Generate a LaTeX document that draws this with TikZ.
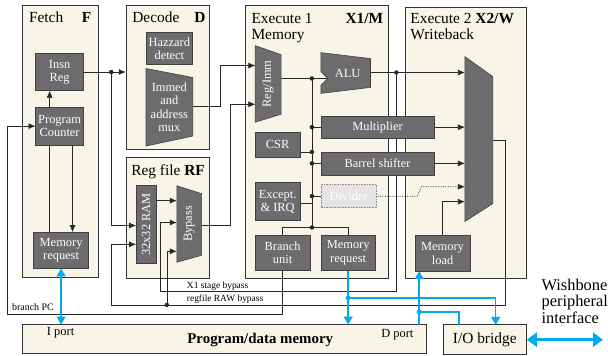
\documentclass[tikz,border=0pt]{standalone}
\usepackage{fontspec}
\setmainfont{Liberation Serif}
\usetikzlibrary{arrows.meta,calc}
\definecolor{cream}{RGB}{248,245,232}
\definecolor{blkgray}{RGB}{108,108,111}
\definecolor{cyanb}{RGB}{0,170,238}
\definecolor{divfill}{RGB}{228,228,228}
\pgfdeclarelayer{bg}
\pgfdeclarelayer{wirel}
\pgfsetlayers{bg,wirel,main}
\begin{document}
\begin{tikzpicture}[x=1pt,y=-1pt,
  stage/.style={draw=black!80,fill=cream,line width=0.7pt,inner sep=0pt},
  blkbox/.style={draw=black!75,fill=blkgray,text=white,align=center,inner sep=0pt,line width=0.6pt,font=\fontsize{12.5}{13.5}\selectfont},
  muxshape/.style={draw=black!75,fill=blkgray,line width=0.6pt},
  muxtext/.style={text=white,align=center,inner sep=0pt,font=\fontsize{12.5}{13.5}\selectfont},
  wire/.style={draw=black!85,line width=0.7pt},
  arr/.style={wire,-{Latex[length=7pt,width=6pt]}},
  bwire/.style={draw=cyanb,line width=1.6pt},
  barr/.style={bwire,-{Triangle[length=8pt,width=9pt]}},
  jdot/.style={circle,fill=black!85,inner sep=0pt,minimum size=4.5pt},
  bdot/.style={circle,fill=cyanb,inner sep=0pt,minimum size=5pt},
  ttl/.style={font=\fontsize{15.5}{17}\selectfont,inner sep=0pt},
  wbt/.style={font=\fontsize{16.5}{18}\selectfont,inner sep=0pt,anchor=base west},
  small/.style={font=\fontsize{9.5}{11}\selectfont,inner sep=0pt,anchor=base west},
]
\begin{pgfonlayer}{bg}
\useasboundingbox (0,0) rectangle (608,358);
\fill[white] (0,0) rectangle (608,358);
% ---------- stage boxes ----------
\node[stage,minimum width=76,minimum height=274] (fetch) at (61,142) {};
\node[stage,minimum width=84,minimum height=145] (decode) at (169,77.5) {};
\node[stage,minimum width=84,minimum height=122] (rf) at (169,219) {};
\node[stage,minimum width=144,minimum height=275] (xone) at (319,142.5) {};
\node[stage,minimum width=122,minimum height=273] (xtwo) at (469,143.5) {};
\node[stage,minimum width=406,minimum height=29] (pmem) at (226,341.5) {};
\node[stage,minimum width=84,minimum height=30,font=\fontsize{15.5}{17}\selectfont] (iob) at (488,342) {I/O bridge};
\end{pgfonlayer}

% ---------- titles ----------
\node[ttl,anchor=base west] (tF) at (29,22.5) {Fetch};
\node[ttl,anchor=base east] (tFb) at (92,22.5) {\bfseries F};
\node[ttl,anchor=base west] (tD) at (133,22.5) {Decode};
\node[ttl,anchor=base east] (tDb) at (207,22.5) {\bfseries D};
\node[ttl,anchor=base west] (tRF) at (132,177) {Reg file \textbf{RF}};
\node[ttl,anchor=base west] (tX1) at (253,23.5) {Execute 1};
\node[ttl,anchor=base west] (tX1m) at (253,40) {Memory};
\node[ttl,anchor=base east] (tX1b) at (386,23.5) {\bfseries X1/M};
\node[ttl,anchor=base west] (tX2) at (413,23.5) {Execute 2 \textbf{X2/W}};
\node[ttl,anchor=base west] (tX2m) at (413,40) {Writeback};
\node[font=\fontsize{15}{17}\selectfont\bfseries,inner sep=0pt] (tpm) at (262,342) {Program/data memory};
\node[font=\fontsize{12.5}{14}\selectfont,inner sep=0pt,anchor=base] (tip) at (61,338) {I port};
\node[font=\fontsize{12.5}{14}\selectfont,inner sep=0pt,anchor=base] (tdp) at (400,340) {D port};
\node[wbt] (w1) at (545,292) {Wishbone};
\node[wbt] (w2) at (545,309) {peripheral};
\node[wbt] (w3) at (545,326) {interface};

% ---------- blocks ----------
\node[blkbox,minimum width=48,minimum height=37] (insn) at (60,72.5) {Insn\\Reg};
\node[blkbox,minimum width=48,minimum height=38] (pc) at (60,127) {Program\\Counter};
\node[blkbox,minimum width=55,minimum height=36] (fmem) at (61.5,252) {Memory\\request};
\node[blkbox,minimum width=47,minimum height=32] (haz) at (170.5,49) {Hazzard\\detect};
\node[blkbox,minimum width=20,minimum height=78] (ram) at (147,226) {};
\node[muxtext,rotate=90] (ramt) at (147,226) {32x32 RAM};
\node[blkbox,minimum width=45,minimum height=25] (csr) at (279.5,145.5) {CSR};
\node[blkbox,minimum width=114,minimum height=22] (mult) at (380,128) {Multiplier};
\node[blkbox,minimum width=114,minimum height=23] (barrel) at (380,164.5) {Barrel shifter};
\node[blkbox,minimum width=45,minimum height=38] (exc) at (279.5,203) {Except.\\\& IRQ};
\node[blkbox,minimum width=56,minimum height=23,fill=divfill,draw=black!45,densely dotted,text=white] (div) at (351,197.5) {Divider};
\node[blkbox,minimum width=55,minimum height=35] (branch) at (284.5,254.5) {Branch\\unit};
\node[blkbox,minimum width=55,minimum height=35] (xmem) at (350.5,254.5) {Memory\\request};
\node[blkbox,minimum width=55,minimum height=36] (mload) at (445.5,255) {Memory\\load};

% ---------- muxes ----------
\filldraw[muxshape] (147,69) -- (194,78) -- (194,137) -- (147,147) -- cycle;
\node[muxtext] (immt) at (170.5,108) {Immed\\and\\address\\mux};
\filldraw[muxshape] (178,187) -- (203,195) -- (203,257) -- (178,264) -- cycle;
\node[muxtext,rotate=90] (byt) at (190.5,225.5) {Bypass};
\filldraw[muxshape] (257,46) -- (283,55) -- (283,115) -- (257,123) -- cycle;
\node[muxtext,rotate=90] (rit) at (270,84.5) {Reg/Imm};
\filldraw[muxshape] (323,53) -- (373,59) -- (373,88) -- (323,94) -- (323,86) -- (330,79) -- (323,72) -- cycle;
\node[muxtext] (alut) at (350,74) {ALU};
\filldraw[muxshape] (468,57) -- (496,77) -- (496,205) -- (468,223) -- cycle;

% ---------- ports ----------
\coordinate (imm-out) at (194,107);
\coordinate (ri-in1) at (257,66);
\coordinate (ri-in2) at (257,105);
\coordinate (ri-out) at (283,79);
\coordinate (alu-in) at (330,79);
\coordinate (alu-out) at (373,73);
\coordinate (ram-in1) at (137,227);
\coordinate (ram-in2) at (137,246);
\coordinate (by-in1) at (178,202);
\coordinate (by-in2) at (178,224);
\coordinate (by-in3) at (178,253);
\coordinate (by-out) at (203,227);
\coordinate (wb-in1) at (468,73);
\coordinate (wb-in2) at (468,128);
\coordinate (wb-in3) at (468,164.5);
\coordinate (wb-in4) at (468,188);
\coordinate (wb-in5) at (468,203);
\coordinate (wb-out) at (496,141);
\coordinate (pcA) at ($(pc.north)+(-10,0)$);
\coordinate (pcB) at ($(pc.south)+(-10,0)$);
\coordinate (pcC) at ($(pc.south)+(13,0)$);
\coordinate (iob-in1) at (499,327);
\coordinate (iob-in2) at (462,327);
\coordinate (dport) at (422,327);
\coordinate (mlb) at (422,273);

% ---------- dots ----------
\node[jdot] (d1) at (112,72.5) {};
\node[jdot] (dalu) at (399,73) {};
\node[jdot] (draw) at (168,307) {};
\node[jdot] (b1) at (314,79) {};
\node[jdot] (b2) at (314,128) {};
\node[jdot] (b3) at (314,153) {};
\node[jdot] (b4) at (314,164.5) {};
\node[jdot] (b5) at (314,197.5) {};
\node[jdot] (b6) at (314,229) {};
\node[bdot] (bd1) at (350.5,300) {};
\node[bdot] (bd2) at (422,314) {};

\begin{pgfonlayer}{wirel}
% ---------- black wires ----------
\draw[arr] (insn.east) -- (insn.east -| decode.west);
\draw[arr] (d1.center) |- (ram-in1);
\draw[arr] (pcA) -- (pcA |- insn.south);
\draw[wire] (pcB) -- (pcB |- fmem.north);
\draw[arr] (pcC) -- (pcC |- fmem.north);
\draw[arr] (branch.south) |- (7,316) |- (pc.west);
\draw[arr] (imm-out) -| (222,66) -- (ri-in1);
\draw[arr] (by-out) -| (232,105) -- (ri-in2);
\draw[arr] (ram.east |- by-in1) -- (by-in1);
\draw[arr] (dalu.center) |- (161,293) |- (by-in2);
\draw[arr] (wb-out) -| (509,307) -| (112,246) -- (ram-in2);
\draw[arr] (draw.center) |- (by-in3);
\draw[wire] (ri-out) -- (alu-in);
\draw[wire] (b1.center) -- (b6.center);
\draw[wire] (b2.center) -- (mult.west);
\draw[wire] (b4.center) -- (barrel.west);
\draw[wire] (csr.east |- b3) -- (b3.center);
\draw[wire] (exc.east |- 0,205) -- (314,205);
\draw[wire] (b5.center) -- (div.west);
\draw[wire] (branch.north) |- (b6.center) -| (xmem.north);
\draw[arr] (alu-out) -- (wb-in1);
\draw[arr] (mult.east) -- (wb-in2);
\draw[arr] (barrel.east) -- (wb-in3);
\draw[wire,densely dotted,-{Latex[length=7pt,width=6pt]}] (div.east) -- (420,197.5) -- (424,188) -- (wb-in4);
\draw[arr] (mload.north) |- (wb-in5);

% ---------- blue wires ----------
\draw[bwire,{Triangle[length=8pt,width=9pt]}-{Triangle[length=8pt,width=9pt]}] (fmem.south) -- (fmem.south |- pmem.north);
\draw[barr] (xmem.south) -- (xmem.south |- pmem.north);
\draw[barr] (bd1.center) -| (iob-in1);
\draw[barr] (dport) -- (mlb);
\draw[bwire] (bd2.center) -| (iob-in2);
\draw[draw=cyanb,line width=3.5pt,{Triangle[length=10pt,width=14pt]}-{Triangle[length=10pt,width=14pt]}] (iob.east) -- (607,342);
\end{pgfonlayer}

% ---------- labels ----------
\node[small] (lx1) at (188,290.5) {X1 stage bypass};
\node[small] (lrf) at (188,303.5) {regfile RAW bypass};
\node[font=\fontsize{10}{12}\selectfont,inner sep=0pt,anchor=base west] (lbpc) at (12,313) {branch PC};
\end{tikzpicture}
\end{document}
